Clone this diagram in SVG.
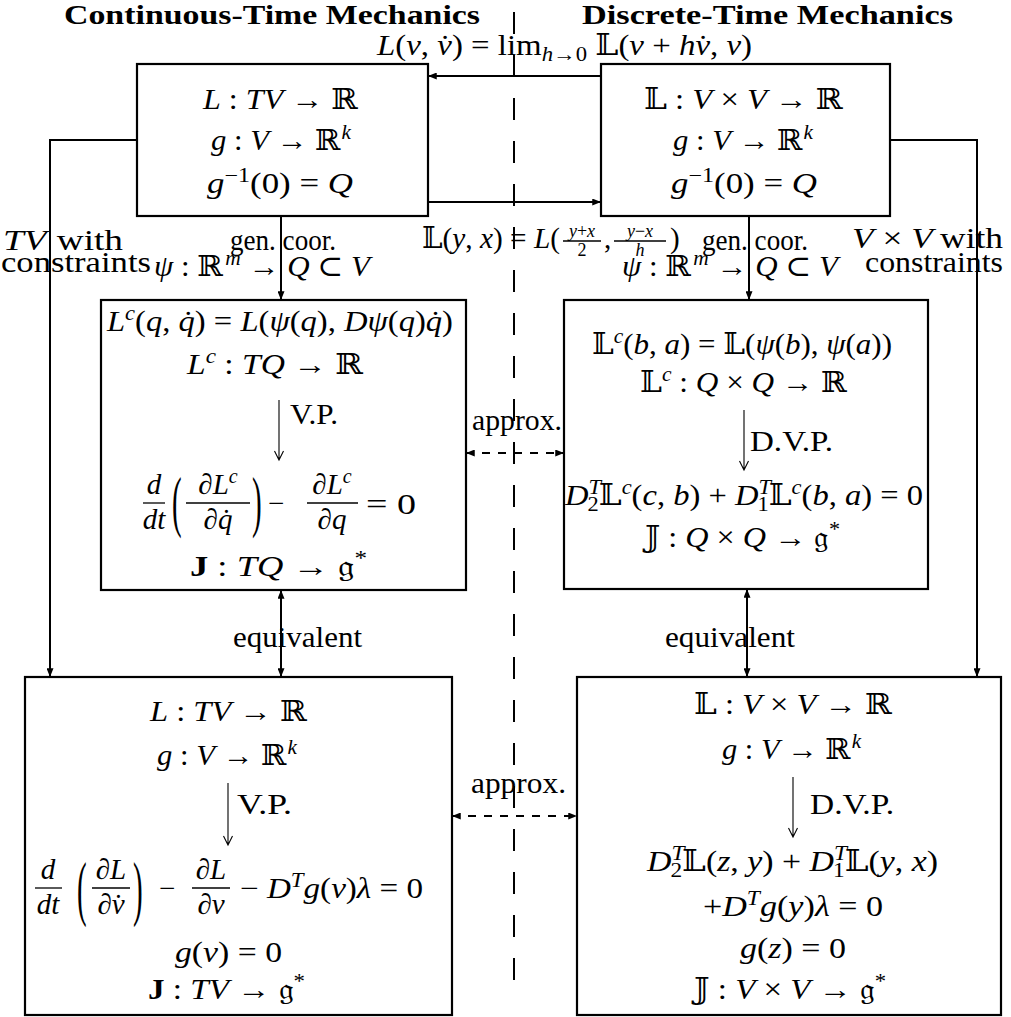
<svg xmlns="http://www.w3.org/2000/svg" width="1011" height="1017" viewBox="0 0 1011 1017">
<defs>
<style>
.tx{font-family:"Liberation Serif","DejaVu Serif",serif;font-size:29px;fill:#000}
.it{font-style:italic}
.bf{font-weight:bold}
.ti{font-size:28px}
.sm{font-size:20px}
.fr{font-size:18px}
.box{fill:none;stroke:#000;stroke-width:2.2}
.con{fill:none;stroke:#000;stroke-width:2}
.dsh{stroke-dasharray:8 8}
.thin{fill:none;stroke:#000;stroke-width:1.1}
.bar{stroke:#000;stroke-width:1.3}
.div{fill:none;stroke:#000;stroke-width:2;stroke-dasharray:22 21}
</style>
<marker id="ah" viewBox="0 0 10 8" refX="10" refY="4" markerWidth="9" markerHeight="7" markerUnits="userSpaceOnUse" orient="auto-start-reverse"><path d="M0,0L10,4L0,8z" fill="#000"/></marker>
</defs>
<rect width="1011" height="1017" fill="#fff"/>

<g id="divider"><path class="div" d="M514,12V1000"/></g>

<g id="titles">
<text class="tx ti bf" x="64" y="24" textLength="416" lengthAdjust="spacingAndGlyphs">Continuous-Time Mechanics</text>
<text class="tx ti bf" x="582" y="24" textLength="371" lengthAdjust="spacingAndGlyphs">Discrete-Time Mechanics</text>
</g>

<g id="n-cont-top">
<rect class="box" x="137" y="64" width="291" height="152"/>
<text class="tx" x="203" y="109" textLength="155" lengthAdjust="spacingAndGlyphs"><tspan class="it">L</tspan> : <tspan class="it">TV</tspan> → ℝ</text>
<text class="tx" x="211" y="150" textLength="140" lengthAdjust="spacingAndGlyphs"><tspan class="it">g</tspan> : <tspan class="it">V</tspan> → ℝ<tspan class="sm it" baseline-shift="11" dx="1">k</tspan></text>
<text class="tx" x="207" y="193" textLength="146" lengthAdjust="spacingAndGlyphs"><tspan class="it">g</tspan><tspan class="sm" baseline-shift="11">−1</tspan>(0) = <tspan class="it">Q</tspan></text>
</g>

<g id="n-disc-top">
<rect class="box" x="601" y="64" width="289" height="152"/>
<text class="tx" x="644" y="109" textLength="199" lengthAdjust="spacingAndGlyphs">𝕃 : <tspan class="it">V</tspan> × <tspan class="it">V</tspan> → ℝ</text>
<text class="tx" x="673" y="150" textLength="140" lengthAdjust="spacingAndGlyphs"><tspan class="it">g</tspan> : <tspan class="it">V</tspan> → ℝ<tspan class="sm it" baseline-shift="11" dx="1">k</tspan></text>
<text class="tx" x="671" y="193" textLength="146" lengthAdjust="spacingAndGlyphs"><tspan class="it">g</tspan><tspan class="sm" baseline-shift="11">−1</tspan>(0) = <tspan class="it">Q</tspan></text>
</g>

<g id="n-cont-mid">
<rect class="box" x="101" y="300" width="365" height="290"/>
<text class="tx" x="107" y="331" textLength="346" lengthAdjust="spacingAndGlyphs"><tspan class="it">L</tspan><tspan class="sm it" baseline-shift="11">c</tspan>(<tspan class="it">q</tspan>, <tspan class="it">q̇</tspan>) = <tspan class="it">L</tspan>(<tspan class="it">ψ</tspan>(<tspan class="it">q</tspan>), <tspan class="it">Dψ</tspan>(<tspan class="it">q</tspan>)<tspan class="it">q̇</tspan>)</text>
<text class="tx" x="187" y="374" textLength="176" lengthAdjust="spacingAndGlyphs"><tspan class="it">L</tspan><tspan class="sm it" baseline-shift="11">c</tspan> : <tspan class="it">TQ</tspan> → ℝ</text>
<path class="thin" d="M279,400V460M274.5,451L279,460L283.5,451"/>
<text class="tx" x="290" y="424" textLength="48" lengthAdjust="spacingAndGlyphs">V.P.</text>
<text class="tx it" x="154" y="494" text-anchor="middle">d</text>
<line class="bar" x1="143" y1="503" x2="165" y2="503"/>
<text class="tx it" x="154" y="529" text-anchor="middle">dt</text>
<text class="tx" transform="translate(172,524) scale(1,2.3)">(</text>
<text class="tx" x="218" y="494" text-anchor="middle">∂<tspan class="it">L</tspan><tspan class="sm it" baseline-shift="11">c</tspan></text>
<line class="bar" x1="186" y1="503" x2="250" y2="503"/>
<text class="tx" x="218" y="529" text-anchor="middle">∂<tspan class="it">q̇</tspan></text>
<text class="tx" transform="translate(252,524) scale(1,2.3)">)</text>
<text class="tx" x="268" y="513">−</text>
<text class="tx" x="332" y="494" text-anchor="middle">∂<tspan class="it">L</tspan><tspan class="sm it" baseline-shift="11">c</tspan></text>
<line class="bar" x1="307" y1="503" x2="358" y2="503"/>
<text class="tx" x="332" y="529" text-anchor="middle">∂<tspan class="it">q</tspan></text>
<text class="tx" x="366" y="514" textLength="50" lengthAdjust="spacingAndGlyphs">= 0</text>
<text class="tx" x="190" y="576" textLength="177" lengthAdjust="spacingAndGlyphs"><tspan class="bf">J</tspan> : <tspan class="it">TQ</tspan> → 𝔤<tspan class="sm" baseline-shift="11">*</tspan></text>
</g>

<g id="n-disc-mid">
<rect class="box" x="564" y="300" width="364" height="289"/>
<text class="tx" x="592" y="354" textLength="300" lengthAdjust="spacingAndGlyphs">𝕃<tspan class="sm it" baseline-shift="11">c</tspan>(<tspan class="it">b</tspan>, <tspan class="it">a</tspan>) = 𝕃(<tspan class="it">ψ</tspan>(<tspan class="it">b</tspan>), <tspan class="it">ψ</tspan>(<tspan class="it">a</tspan>))</text>
<text class="tx" x="640" y="392" textLength="207" lengthAdjust="spacingAndGlyphs">𝕃<tspan class="sm it" baseline-shift="11">c</tspan> : <tspan class="it">Q</tspan> × <tspan class="it">Q</tspan> → ℝ</text>
<path class="thin" d="M744,410V470M739.5,461L744,470L748.5,461"/>
<text class="tx" x="750" y="451" textLength="83" lengthAdjust="spacingAndGlyphs">D.V.P.</text>
<text class="tx" x="565" y="505" textLength="358" lengthAdjust="spacingAndGlyphs"><tspan class="it">D</tspan><tspan class="sm it" baseline-shift="11">T</tspan><tspan class="sm" baseline-shift="-6" dx="-12">2</tspan>𝕃<tspan class="sm it" baseline-shift="11">c</tspan>(<tspan class="it">c</tspan>, <tspan class="it">b</tspan>) + <tspan class="it">D</tspan><tspan class="sm it" baseline-shift="11">T</tspan><tspan class="sm" baseline-shift="-6" dx="-12">1</tspan>𝕃<tspan class="sm it" baseline-shift="11">c</tspan>(<tspan class="it">b</tspan>, <tspan class="it">a</tspan>) = 0</text>
<text class="tx" x="645" y="547" textLength="195" lengthAdjust="spacingAndGlyphs">𝕁 : <tspan class="it">Q</tspan> × <tspan class="it">Q</tspan> → 𝔤<tspan class="sm" baseline-shift="11">*</tspan></text>
</g>

<g id="n-cont-bot">
<rect class="box" x="25" y="677" width="427" height="338"/>
<text class="tx" x="150" y="721" textLength="157" lengthAdjust="spacingAndGlyphs"><tspan class="it">L</tspan> : <tspan class="it">TV</tspan> → ℝ</text>
<text class="tx" x="157" y="765" textLength="140" lengthAdjust="spacingAndGlyphs"><tspan class="it">g</tspan> : <tspan class="it">V</tspan> → ℝ<tspan class="sm it" baseline-shift="11" dx="1">k</tspan></text>
<path class="thin" d="M228,783V845M223.5,836L228,845L232.5,836"/>
<text class="tx" x="237" y="814" textLength="55" lengthAdjust="spacingAndGlyphs">V.P.</text>
<text class="tx it" x="48" y="879" text-anchor="middle">d</text>
<line class="bar" x1="35" y1="888" x2="62" y2="888"/>
<text class="tx it" x="48" y="914" text-anchor="middle">dt</text>
<text class="tx" transform="translate(77,912) scale(1,2.5)">(</text>
<text class="tx" x="111" y="879" text-anchor="middle">∂<tspan class="it">L</tspan></text>
<line class="bar" x1="92" y1="888" x2="130" y2="888"/>
<text class="tx" x="111" y="914" text-anchor="middle">∂<tspan class="it">v̇</tspan></text>
<text class="tx" transform="translate(133,912) scale(1,2.5)">)</text>
<text class="tx" x="159" y="898">−</text>
<text class="tx" x="211" y="879" text-anchor="middle">∂<tspan class="it">L</tspan></text>
<line class="bar" x1="192" y1="888" x2="230" y2="888"/>
<text class="tx" x="211" y="914" text-anchor="middle">∂<tspan class="it">v</tspan></text>
<text class="tx" x="240" y="898" textLength="183" lengthAdjust="spacingAndGlyphs">− <tspan class="it">D</tspan><tspan class="sm it" baseline-shift="11">T</tspan><tspan class="it">g</tspan>(<tspan class="it">v</tspan>)<tspan class="it">λ</tspan> = 0</text>
<text class="tx" x="175" y="962" textLength="107" lengthAdjust="spacingAndGlyphs"><tspan class="it">g</tspan>(<tspan class="it">v</tspan>) = 0</text>
<text class="tx" x="148" y="999" textLength="157" lengthAdjust="spacingAndGlyphs"><tspan class="bf">J</tspan> : <tspan class="it">TV</tspan> → 𝔤<tspan class="sm" baseline-shift="11">*</tspan></text>
</g>

<g id="n-disc-bot">
<rect class="box" x="577" y="677" width="424" height="338"/>
<text class="tx" x="694" y="714" textLength="198" lengthAdjust="spacingAndGlyphs">𝕃 : <tspan class="it">V</tspan> × <tspan class="it">V</tspan> → ℝ</text>
<text class="tx" x="722" y="759" textLength="139" lengthAdjust="spacingAndGlyphs"><tspan class="it">g</tspan> : <tspan class="it">V</tspan> → ℝ<tspan class="sm it" baseline-shift="11" dx="1">k</tspan></text>
<path class="thin" d="M793,777V837M788.5,828L793,837L797.5,828"/>
<text class="tx" x="810" y="814" textLength="84" lengthAdjust="spacingAndGlyphs">D.V.P.</text>
<text class="tx" x="647" y="871" textLength="291" lengthAdjust="spacingAndGlyphs"><tspan class="it">D</tspan><tspan class="sm it" baseline-shift="11">T</tspan><tspan class="sm" baseline-shift="-6" dx="-12">2</tspan>𝕃(<tspan class="it">z</tspan>, <tspan class="it">y</tspan>) + <tspan class="it">D</tspan><tspan class="sm it" baseline-shift="11">T</tspan><tspan class="sm" baseline-shift="-6" dx="-12">1</tspan>𝕃(<tspan class="it">y</tspan>, <tspan class="it">x</tspan>)</text>
<text class="tx" x="703" y="916" textLength="180" lengthAdjust="spacingAndGlyphs">+<tspan class="it">D</tspan><tspan class="sm it" baseline-shift="11">T</tspan><tspan class="it">g</tspan>(<tspan class="it">y</tspan>)<tspan class="it">λ</tspan> = 0</text>
<text class="tx" x="740" y="958" textLength="106" lengthAdjust="spacingAndGlyphs"><tspan class="it">g</tspan>(<tspan class="it">z</tspan>) = 0</text>
<text class="tx" x="694" y="999" textLength="192" lengthAdjust="spacingAndGlyphs">𝕁 : <tspan class="it">V</tspan> × <tspan class="it">V</tspan> → 𝔤<tspan class="sm" baseline-shift="11">*</tspan></text>
</g>

<g id="connectors">
<path class="con" d="M601,76H428" marker-end="url(#ah)"/>
<path class="con" d="M428,202H601" marker-end="url(#ah)"/>
<path class="con" d="M137,140H50V677" marker-end="url(#ah)"/>
<path class="con" d="M890,140H977V677" marker-end="url(#ah)"/>
<path class="con" d="M281,216V300" marker-end="url(#ah)"/>
<path class="con" d="M749,216V300" marker-end="url(#ah)"/>
<path class="con" d="M281,590V677" marker-start="url(#ah)" marker-end="url(#ah)"/>
<path class="con" d="M747,589V677" marker-start="url(#ah)" marker-end="url(#ah)"/>
<path class="con dsh" d="M466,453H564" marker-start="url(#ah)" marker-end="url(#ah)"/>
<path class="con dsh" d="M452,816H577" marker-start="url(#ah)" marker-end="url(#ah)"/>
</g>

<g id="labels">
<text class="tx" x="377" y="55" textLength="375" lengthAdjust="spacingAndGlyphs"><tspan class="it">L</tspan>(<tspan class="it">v</tspan>, <tspan class="it">v̇</tspan>) = lim<tspan class="sm" baseline-shift="-6"><tspan class="it">h</tspan>→0</tspan> 𝕃(<tspan class="it">v</tspan> + <tspan class="it">hv̇</tspan>, <tspan class="it">v</tspan>)</text>
<text class="tx" x="422" y="248" textLength="138" lengthAdjust="spacingAndGlyphs">𝕃(<tspan class="it">y</tspan>, <tspan class="it">x</tspan>) = <tspan class="it">L</tspan>(</text>
<text class="tx fr" x="582" y="237" text-anchor="middle"><tspan class="it">y</tspan>+<tspan class="it">x</tspan></text>
<line class="bar" x1="563" y1="241" x2="601" y2="241"/>
<text class="tx fr" x="582" y="256" text-anchor="middle">2</text>
<text class="tx" x="604" y="248">,</text>
<text class="tx fr" x="640" y="237" text-anchor="middle"><tspan class="it">y</tspan>−<tspan class="it">x</tspan></text>
<line class="bar" x1="614" y1="241" x2="666" y2="241"/>
<text class="tx fr" x="640" y="256" text-anchor="middle" font-style="italic">h</text>
<text class="tx" x="670" y="248">)</text>
<text class="tx" x="230" y="250" textLength="106" lengthAdjust="spacingAndGlyphs">gen. coor.</text>
<text class="tx" x="154" y="276" textLength="216" lengthAdjust="spacingAndGlyphs"><tspan class="it">ψ</tspan> : ℝ<tspan class="sm it" baseline-shift="11" dx="2">m</tspan> → <tspan class="it">Q</tspan> ⊂ <tspan class="it">V</tspan></text>
<text class="tx" x="702" y="250" textLength="106" lengthAdjust="spacingAndGlyphs">gen. coor.</text>
<text class="tx" x="622" y="276" textLength="216" lengthAdjust="spacingAndGlyphs"><tspan class="it">ψ</tspan> : ℝ<tspan class="sm it" baseline-shift="11" dx="2">m</tspan> → <tspan class="it">Q</tspan> ⊂ <tspan class="it">V</tspan></text>
<text class="tx" x="3" y="250" textLength="120" lengthAdjust="spacingAndGlyphs"><tspan class="it">TV</tspan><tspan dx="8">with</tspan></text>
<text class="tx" x="1" y="272" textLength="150" lengthAdjust="spacingAndGlyphs">constraints</text>
<text class="tx" x="852" y="248" textLength="151" lengthAdjust="spacingAndGlyphs"><tspan class="it">V</tspan> × <tspan class="it">V</tspan><tspan dx="6">with</tspan></text>
<text class="tx" x="865" y="272" textLength="138" lengthAdjust="spacingAndGlyphs">constraints</text>
<text class="tx" x="472" y="430" textLength="90" lengthAdjust="spacingAndGlyphs">approx.</text>
<text class="tx" x="471" y="793" textLength="95" lengthAdjust="spacingAndGlyphs">approx.</text>
<text class="tx" x="233" y="647" textLength="129" lengthAdjust="spacingAndGlyphs">equivalent</text>
<text class="tx" x="665" y="647" textLength="130" lengthAdjust="spacingAndGlyphs">equivalent</text>
</g>
</svg>
